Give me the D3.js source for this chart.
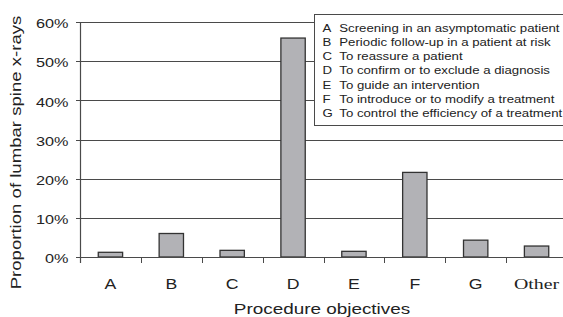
<!DOCTYPE html>
<html><head><meta charset="utf-8">
<script src="https://cdn.jsdelivr.net/npm/d3@7"></script>
<style>
body{margin:0;background:#fff;}
svg{display:block;}
text{font-family:"Liberation Sans",Arial,Helvetica,sans-serif;fill:#222;}
</style></head>
<body>
<svg id="chart" width="563" height="317"></svg>
<script>
const categories = ["A","B","C","D","E","F","G","Other"];
const values = [1.2, 6.0, 1.7, 55.9, 1.45, 21.6, 4.3, 2.8];
const yTicks = [0,10,20,30,40,50,60];
const legendKeys = ["A","B","C","D","E","F","G"];
const legendLabels = [
  "Screening in an asymptomatic patient",
  "Periodic follow-up in a patient at risk",
  "To reassure a patient",
  "To confirm or to exclude a diagnosis",
  "To guide an intervention",
  "To introduce or to modify a treatment",
  "To control the efficiency of a treatment"
];

const svg = d3.select("#chart");
const x = d3.scaleBand().domain(categories).range([80, 567]).paddingInner(0).paddingOuter(0);
const y = d3.scaleLinear().domain([0,60]).range([257, 22]);
const stroke = "#4a4a4a";

// helper: horizontally widened text
function wideText(g, tx, ty, sx, size, anchor, str, extra) {
  return g.append("text")
    .attr("transform", `translate(${tx},${ty})${extra||""} scale(${sx},1)`)
    .attr("text-anchor", anchor).attr("font-size", size).text(str);
}

// gridlines
svg.append("g").selectAll("line").data(yTicks.filter(d=>d>0)).join("line")
  .attr("x1", 76).attr("x2", 563)
  .attr("y1", d=>Math.round(y(d))+0.5).attr("y2", d=>Math.round(y(d))+0.5)
  .attr("stroke", stroke).attr("stroke-width", 1);

// y tick labels
const gy = svg.append("g");
yTicks.forEach(d => wideText(gy, 68.5, y(d)+6.3, 1.25, 13, "end", d+"%"));

// bars
const bw = x.bandwidth()*0.4;
svg.append("g").selectAll("rect").data(values).join("rect")
  .attr("x", (d,i)=>x(categories[i]) + x.bandwidth()/2 - bw/2)
  .attr("y", d=>y(d))
  .attr("width", bw)
  .attr("height", d=>y(0)-y(d))
  .attr("fill", "#b2b2b6").attr("stroke", "#333").attr("stroke-width", 1.3);

// x axis line
svg.append("line").attr("x1", 76).attr("x2", 563).attr("y1", Math.round(y(0))+0.5).attr("y2", Math.round(y(0))+0.5)
  .attr("stroke", stroke).attr("stroke-width", 1.2);
// y axis line
svg.append("line").attr("x1", 80.5).attr("x2", 80.5).attr("y1", y(60)).attr("y2", y(0)+6)
  .attr("stroke", stroke).attr("stroke-width", 1.2);
// x ticks
svg.append("g").selectAll("line").data(categories).join("line")
  .attr("x1", d=>Math.round(x(d))+0.5).attr("x2", d=>Math.round(x(d))+0.5)
  .attr("y1", y(0)).attr("y2", y(0)+6)
  .attr("stroke", stroke).attr("stroke-width", 1);

// x labels
const gx = svg.append("g");
categories.forEach(d => {
  const t = wideText(gx, x(d)+x.bandwidth()/2, 289, d==="Other"?1.28:1.22, d==="Other"?15.5:14.5, "middle", d);
  if (d==="Other") t.style("font-family", "'Liberation Serif','Times New Roman',serif");
});

// axis titles
wideText(svg, 322, 313.5, 1.22, 15.5, "middle", "Procedure objectives");
wideText(svg, 21, 152.5, 1.24, 15, "middle", "Proportion of lumbar spine x-rays", " rotate(-90)");

// legend
const lg = svg.append("g");
lg.append("rect").attr("x", 314.5).attr("y", 14.5).attr("width", 260).attr("height", 111)
  .attr("fill", "#fff").attr("stroke", stroke).attr("stroke-width", 1);
legendKeys.forEach((k,i) => {
  wideText(lg, 322.5, 31.5 + i*14.25, 1.15, 11.5, "start", k);
  wideText(lg, 339.3, 31.5 + i*14.25, 1.15, 11.5, "start", legendLabels[i]);
});
</script>
</body></html>
